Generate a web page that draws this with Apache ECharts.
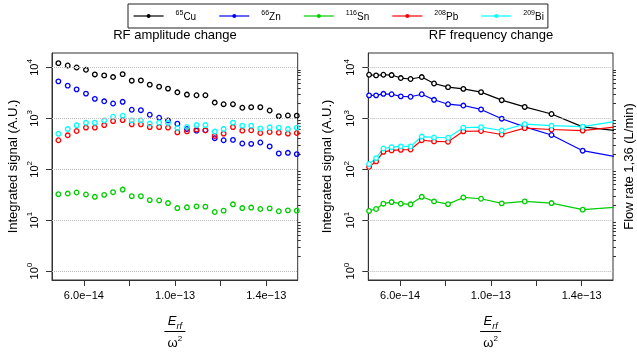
<!DOCTYPE html>
<html>
<head>
<meta charset="utf-8">
<script src="https://cdn.jsdelivr.net/npm/echarts@6/dist/echarts.min.js"></script>
<style>html,body{margin:0;background:#fff}#c{width:637px;height:355px}</style>
</head>
<body>
<div id="c"></div>
<script>
// isotopes in legend order
const isotopes = ['65Cu', '66Zn', '116Sn', '208Pb', '209Bi']
const colors = ['#000000', '#0000ff', '#00cd00', '#ff0000', '#00ffff']

// left panel: RF amplitude change
const xAmp = [4.88e-14, 5.29e-14, 5.68e-14, 6.09e-14, 6.48e-14, 6.89e-14, 7.28e-14, 7.70e-14, 8.10e-14,
  8.50e-14, 8.89e-14, 9.30e-14, 9.69e-14, 10.10e-14, 10.52e-14, 10.94e-14, 11.33e-14, 11.74e-14,
  12.13e-14, 12.54e-14, 12.95e-14, 13.34e-14, 13.74e-14, 14.15e-14, 14.55e-14, 14.95e-14, 15.34e-14]
const cuAmp = [12180, 10940, 10000, 9020, 7310, 6990, 6500, 7400, 5510, 5580, 4600, 4210, 3850, 3260,
  2940, 2850, 2850, 2050, 1900, 1900, 1620, 1660, 1660, 1430, 1110, 1140, 1130]
const znAmp = [5340, 4400, 3720, 3070, 2420, 2170, 1960, 2120, 1480, 1450, 1180, 1030, 915, 789,
  620, 575, 585, 408, 372, 378, 321, 316, 336, 281, 205, 211, 199]
const snAmp = [32.4, 33.4, 35.0, 32.0, 28.8, 31.5, 35.5, 40.0, 29.6, 29.6, 24.8, 24.4, 21.7, 17.3,
  17.9, 18.7, 18.5, 14.5, 15.4, 20.5, 17.3, 17.7, 16.6, 17.1, 15.0, 15.6, 15.4]
const pbAmp = [372, 466, 565, 659, 659, 740, 885, 927, 764, 764, 676, 676, 659, 533,
  558, 603, 584, 452, 503, 676, 575, 584, 516, 541, 526, 503, 516]
const biAmp = [499, 618, 731, 824, 824, 914, 1079, 1129, 914, 914, 793, 824, 817, 647,
  677, 740, 740, 551, 618, 824, 721, 721, 638, 668, 659, 618, 659]

// right panel: RF frequency change (last point lies past the axis end)
const xFreq = [4.635e-14, 4.943e-14, 5.265e-14, 5.626e-14, 6.031e-14, 6.462e-14, 6.955e-14, 7.497e-14,
  8.113e-14, 8.787e-14, 9.567e-14, 10.478e-14, 11.491e-14, 12.671e-14, 14.044e-14, 15.65e-14]
const cuFreq = [7210, 6990, 7210, 7110, 6210, 5940, 6500, 4850, 4110, 3810, 3290, 2280, 1680, 1220, 683, 565]
const znFreq = [2840, 2840, 3040, 2980, 2710, 2660, 2980, 2320, 1900, 1790, 1500, 986, 683, 472, 232, 173]
const snFreq = [15.2, 16.6, 21.1, 22.7, 21.1, 20.5, 28.8, 23.4, 20.7, 28.0, 26.4, 21.4, 23.4, 21.7, 16.1, 18.2]
const pbFreq = [111, 143, 220, 235, 241, 245, 372, 353, 348, 558, 565, 483, 644, 605, 576, 689]
const biFreq = [127, 166, 256, 272, 282, 282, 440, 422, 417, 659, 673, 578, 771, 721, 689, 894]

const xTicks = [6e-14, 8e-14, 1e-13, 1.2e-13, 1.4e-13]
const xLabels = [6e-14, 1e-13, 1.4e-13]
const decades = [1, 10, 100, 1000, 10000]
const minorTicks = []
decades.slice(0, 4).forEach(d => { for (let k = 2; k <= 9; k++) minorTicks.push(k * d) })

const font = '"Liberation Sans", Arial, sans-serif'
const xRange = [4.6e-14, 1.538e-13]
const yRange = [0.668, 19275]

const zip = (xs, ys) => xs.map((x, i) => [x, ys[i]])
const splitIso = n => n.match(/^(\d+)(\D+)$/)

const chart = echarts.init(document.getElementById('c'), null, { renderer: 'canvas' })

function xAxis(gridIndex) {
  return {
    type: 'value', gridIndex, min: xRange[0], max: xRange[1],
    splitLine: { show: false },
    axisLine: { lineStyle: { color: '#333' } },
    axisTick: { customValues: xTicks, length: 6, lineStyle: { color: '#333' } },
    axisLabel: {
      customValues: xLabels, margin: 10, color: '#000', fontFamily: font, fontSize: 11,
      formatter: v => v.toExponential(1).replace('-', '\u2212')
    },
    name: '{E|E}{sub|rf}\n{bar| }\n{w|\u03c9}{sup|2}',
    nameLocation: 'middle', nameGap: 33,
    nameTextStyle: {
      fontFamily: font, color: '#000',
      rich: {
        E: { fontSize: 13, fontStyle: 'italic', lineHeight: 15, verticalAlign: 'bottom' },
        sub: { fontSize: 9, fontStyle: 'italic', lineHeight: 15, verticalAlign: 'bottom', padding: [0, 0, -3, 0] },
        bar: { fontSize: 1, width: 21, height: 1, lineHeight: 7, backgroundColor: '#000' },
        w: { fontSize: 13, lineHeight: 15, verticalAlign: 'bottom' },
        sup: { fontSize: 8, lineHeight: 15, verticalAlign: 'top' }
      }
    }
  }
}

function yMain(gridIndex) {
  return {
    type: 'log', logBase: 10, gridIndex, min: yRange[0], max: yRange[1],
    splitLine: { show: false },
    axisLine: { lineStyle: { color: '#333' } },
    axisTick: { customValues: decades, length: 6, lineStyle: { color: '#333' } },
    axisLabel: {
      customValues: decades, rotate: 90, margin: 12, color: '#000', fontFamily: font,
      formatter: v => '{b|10}{s|' + Math.round(Math.log10(v)) + '}',
      rich: {
        b: { fontSize: 11, fontFamily: font, lineHeight: 14, verticalAlign: 'bottom' },
        s: { fontSize: 8, fontFamily: font, lineHeight: 14, verticalAlign: 'top' }
      }
    },
    name: 'Integrated signal (A.U.)', nameLocation: 'middle', nameGap: 32,
    nameTextStyle: { fontFamily: font, fontSize: 13, color: '#000' }
  }
}

function yMinor(gridIndex) {
  return {
    type: 'log', logBase: 10, gridIndex, min: yRange[0], max: yRange[1],
    splitLine: { show: false }, axisLine: { show: false }, axisLabel: { show: false },
    axisTick: { customValues: minorTicks, length: 3, lineStyle: { color: '#333' } }
  }
}

// right panel: markers joined by lines (listed first so the legend takes its line icon)
const freqSeries = [cuFreq, znFreq, snFreq, pbFreq, biFreq].map((ys, i) => ({
  name: isotopes[i], type: 'line', xAxisIndex: 1, yAxisIndex: 2,
  data: zip(xFreq, ys), symbol: 'circle', symbolSize: 4.6,
  itemStyle: { color: '#fff', borderColor: colors[i], borderWidth: 1.3 },
  lineStyle: { color: colors[i], width: 1.2 }, silent: true, animation: false
}))
// left panel: markers only
const ampSeries = [cuAmp, znAmp, snAmp, pbAmp, biAmp].map((ys, i) => ({
  name: isotopes[i], type: 'scatter', xAxisIndex: 0, yAxisIndex: 0,
  data: zip(xAmp, ys), symbol: 'circle', symbolSize: 4.6,
  itemStyle: { color: 'rgba(0,0,0,0)', borderColor: colors[i], borderWidth: 1.3, opacity: 1 },
  silent: true, animation: false
}))
const gridLines = [0, 2].map((yi, k) => ({
  type: 'line', xAxisIndex: k, yAxisIndex: yi, data: [], silent: true, animation: false,
  markLine: {
    silent: true, symbol: 'none', label: { show: false }, animation: false,
    lineStyle: { color: '#bbb', type: 'dotted', width: 1 },
    data: decades.map(v => ({ yAxis: v }))
  }
}))

chart.setOption({
  backgroundColor: '#fff',
  animation: false,
  textStyle: { fontFamily: font },
  title: [
    { text: 'RF amplitude change', left: 175, top: 29, textAlign: 'center', padding: 0,
      textStyle: { fontSize: 13, fontWeight: 'normal', color: '#000', fontFamily: font } },
    { text: 'RF frequency change', left: 491, top: 29, textAlign: 'center', padding: 0,
      textStyle: { fontSize: 13, fontWeight: 'normal', color: '#000', fontFamily: font } }
  ],
  legend: {
    left: 128, top: 4, orient: 'horizontal',
    padding: [6, 4, 6, 5], itemGap: 22.5, itemWidth: 30, itemHeight: 5,
    borderColor: '#222', borderWidth: 1, backgroundColor: '#fff',
    data: isotopes.map((n, i) => ({
      name: n,
      itemStyle: { color: colors[i], borderColor: colors[i], borderWidth: 0 },
      lineStyle: { color: colors[i], width: 1.2 }
    })),
    formatter: n => { const m = splitIso(n); return '{sp| }{sup|' + m[1] + '}{el|' + m[2] + '}' },
    textStyle: {
      color: '#000', fontFamily: font,
      rich: {
        sp: { width: 7, fontSize: 10 },
        sup: { fontSize: 7, verticalAlign: 'top', lineHeight: 12 },
        el: { fontSize: 10, verticalAlign: 'bottom', lineHeight: 12 }
      }
    }
  },
  grid: [
    { left: 52, top: 53, width: 245.7, height: 229, show: true, borderColor: '#333', borderWidth: 1 },
    { left: 368.3, top: 53, width: 245, height: 229, show: true, borderColor: '#333', borderWidth: 1 }
  ],
  xAxis: [xAxis(0), xAxis(1)],
  yAxis: [
    yMain(0), yMinor(0), Object.assign(yMain(1), { nameGap: 34 }), yMinor(1),
    {
      type: 'value', gridIndex: 1, position: 'right', min: 0, max: 1,
      axisLine: { show: false }, axisTick: { show: false }, axisLabel: { show: false }, splitLine: { show: false },
      name: 'Flow rate 1,36 (L/min)', nameLocation: 'middle', nameRotate: 90, nameGap: 10,
      nameTextStyle: { fontFamily: font, fontSize: 13, color: '#000' }
    }
  ],
  series: [...gridLines, ...freqSeries, ...ampSeries]
})
</script>
</body>
</html>
